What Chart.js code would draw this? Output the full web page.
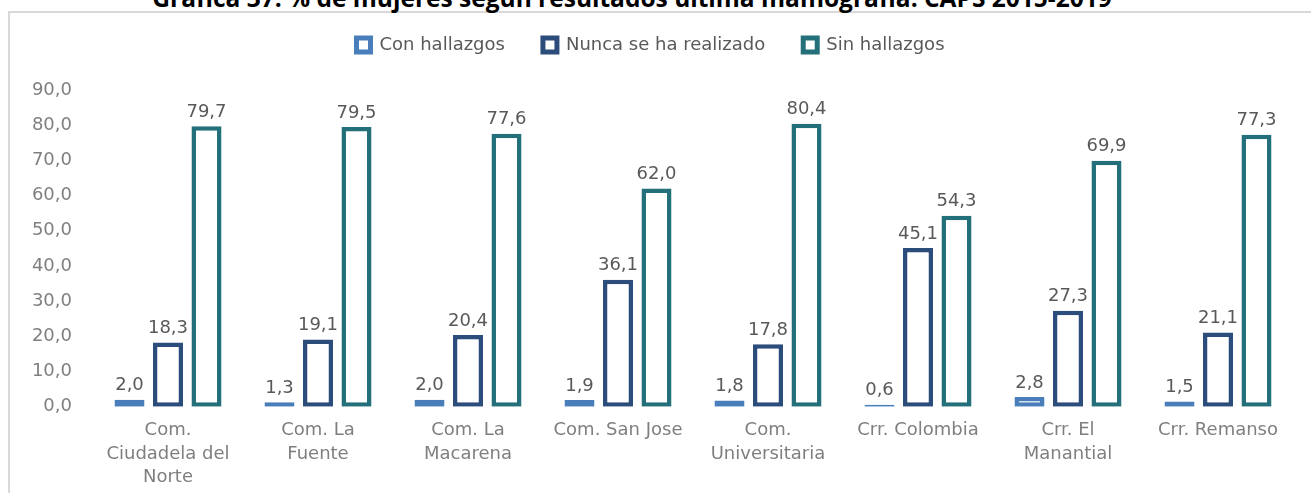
<!DOCTYPE html>
<html>
<head>
<meta charset="utf-8">
<script src="https://cdn.jsdelivr.net/npm/chart.js@4"></script>
<style>
  body { margin: 0; background: #fff; overflow: hidden; }
  #frame { position: absolute; left: 8px; top: 11px; width: 1320px; height: 500px;
           border-top: 2px solid #d9d9d9; border-left: 2px solid #d9d9d9; }
  #title { position: absolute; left: 0; width: 1264px; top: -19px; text-align: center;
           font: bold 24.5px "Open Sans", sans-serif; color: #000; white-space: nowrap; }
  #wrap { position: absolute; left: 0; top: 0; width: 1311px; height: 493px; }
</style>
</head>
<body>
<div id="frame"></div>
<div id="title">Gráfica 37. % de mujeres según resultados última mamografía. CAPS 2015-2019</div>
<div id="wrap"><canvas id="chart"></canvas></div>
<script>
// categorías (barrios / comunas)
const categorias = [
  ['Com.', 'Ciudadela del', 'Norte'],
  ['Com. La', 'Fuente'],
  ['Com. La', 'Macarena'],
  'Com. San Jose',
  ['Com.', 'Universitaria'],
  'Crr. Colombia',
  ['Crr. El', 'Manantial'],
  'Crr. Remanso'
];

// valores por serie (%)
const conHallazgos = [2.0, 1.3, 2.0, 1.9, 1.8, 0.6, 2.8, 1.5];
const nuncaRealizado = [18.3, 19.1, 20.4, 36.1, 17.8, 45.1, 27.3, 21.1];
const sinHallazgos = [79.7, 79.5, 77.6, 62.0, 80.4, 54.3, 69.9, 77.3];

// etiquetas del eje y
const yTicks = [0, 10, 20, 30, 40, 50, 60, 70, 80, 90];

const fmt = v => v.toFixed(1).replace('.', ',');
const FONT = 'DejaVu Sans';

// etiquetas de datos encima de cada barra
const etiquetasPlugin = {
  id: 'etiquetas',
  afterDatasetsDraw(chart) {
    const ctx = chart.ctx;
    ctx.save();
    ctx.font = '18px "DejaVu Sans"';
    ctx.fillStyle = '#595959';
    ctx.textAlign = 'center';
    ctx.textBaseline = 'bottom';
    chart.data.datasets.forEach((ds, i) => {
      chart.getDatasetMeta(i).data.forEach((bar, j) => {
        ctx.fillText(fmt(ds.data[j]), bar.x, bar.y - 5);
      });
    });
    ctx.restore();
  }
};

// espacio extra debajo de la leyenda
const espacioLeyenda = {
  id: 'espacioLeyenda',
  beforeInit(chart) {
    const fitOrig = chart.legend.fit;
    chart.legend.fit = function () {
      fitOrig.bind(chart.legend)();
      this.height += 26;
    };
  }
};

function serie(label, data, color) {
  return {
    label: label,
    data: data,
    backgroundColor: '#ffffff',
    borderColor: color,
    borderWidth: 4.5,
    borderSkipped: false,
    categoryPercentage: 0.77,
    barPercentage: 0.78
  };
}

new Chart(document.getElementById('chart'), {
  type: 'bar',
  data: {
    labels: categorias,
    datasets: [
      serie('Con hallazgos', conHallazgos, '#4a7ebb'),
      serie('Nunca se ha realizado', nuncaRealizado, '#2c4c7c'),
      serie('Sin hallazgos', sinHallazgos, '#24707a')
    ]
  },
  options: {
    responsive: true,
    maintainAspectRatio: false,
    animation: false,
    layout: { padding: { top: -2, left: 8, right: 18, bottom: 0 } },
    plugins: {
      legend: {
        position: 'top',
        labels: {
          font: { family: FONT, size: 18 },
          color: '#595959',
          boxWidth: 14,
          boxHeight: 14,
          padding: 38,
          generateLabels(chart) {
            return chart.data.datasets.map((ds, i) => ({
              text: ds.label,
              fillStyle: '#ffffff',
              strokeStyle: ds.borderColor,
              lineWidth: 5,
              datasetIndex: i,
              fontColor: '#595959'
            }));
          }
        }
      },
      tooltip: { enabled: false }
    },
    scales: {
      x: {
        grid: { display: false },
        border: { display: false },
        ticks: {
          font: { family: FONT, size: 18, lineHeight: 1.3 },
          color: '#7f7f7f',
          padding: 4,
          maxRotation: 0,
          autoSkip: false
        }
      },
      y: {
        min: 0,
        max: 90,
        grid: { display: false },
        border: { display: false },
        afterFit(scale) { scale.width = 85; },
        afterBuildTicks(scale) { scale.ticks = yTicks.map(v => ({ value: v })); },
        ticks: {
          font: { family: FONT, size: 18 },
          color: '#7f7f7f',
          padding: 13,
          callback: v => fmt(v)
        }
      }
    }
  },
  plugins: [etiquetasPlugin, espacioLeyenda]
});
</script>
</body>
</html>
